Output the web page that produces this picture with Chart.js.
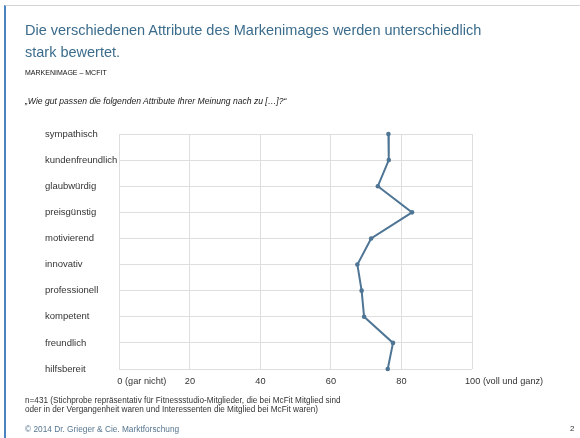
<!DOCTYPE html>
<html lang="de">
<head>
    <meta charset="UTF-8">
    <title>Markenimage McFit</title>
    <style>
        body { margin: 0; background: #fff; font-family: "Liberation Sans", Arial, sans-serif; }
        .slide { position: relative; width: 580px; height: 438px; overflow: hidden; }
        .frame { position: absolute; left: 4px; top: 5px; right: 0; bottom: 0; border-left: 2px solid #4a84c0; border-top: 1px solid #d4d4d4; }
        .chart-box { position: absolute; left: 0; top: 0; width: 580px; height: 438px; }
        .txt { position: absolute; left: 25px; white-space: nowrap; }
        .title { top: 19px; font-size: 14.5px; color: #3b6c8c; line-height: 22px; }
        .sub { top: 69px; font-size: 7px; color: #111; }
        .quote { top: 96px; font-size: 8.6px; font-style: italic; color: #222; }
        .note { top: 396px; font-size: 8.2px; color: #333; line-height: 9px; }
        .copy { top: 424px; font-size: 8.3px; color: #56758f; }
        .page { position: absolute; left: 570px; top: 424px; font-size: 8px; color: #333; }
    </style>
</head>
<body>
<div class="slide">
    <div class="frame"></div>
    <div class="chart-box"><canvas id="imageChart"></canvas></div>
    <div class="txt title">Die verschiedenen Attribute des Markenimages werden unterschiedlich<br>stark bewertet.</div>
    <div class="txt sub">MARKENIMAGE – MCFIT</div>
    <div class="txt quote">„Wie gut passen die folgenden Attribute Ihrer Meinung nach zu […]?“</div>
    <div class="txt note">n=431 (Stichprobe repräsentativ für Fitnessstudio-Mitglieder, die bei McFit Mitglied sind<br>oder in der Vergangenheit waren und Interessenten die Mitglied bei McFit waren)</div>
    <div class="txt copy">© 2014 Dr. Grieger &amp; Cie. Marktforschung</div>
    <div class="page">2</div>
</div>
<script src="https://cdn.jsdelivr.net/npm/chart.js"></script>
<script>
    const attribute = ['sympathisch', 'kundenfreundlich', 'glaubwürdig', 'preisgünstig', 'motivierend',
        'innovativ', 'professionell', 'kompetent', 'freundlich', 'hilfsbereit'];
    const werte = [76.3, 76.4, 73.3, 83.0, 71.4, 67.5, 68.7, 69.4, 77.6, 76.1];
    const xTicks = [0, 20, 40, 60, 80, 100];
    const xTickLabels = ['0 (gar nicht)', '20', '40', '60', '80', '100 (voll und ganz)'];

    // x-Beschriftung selbst zeichnen: erste und letzte stehen linksbündig am Strich
    const xLabels = {
        id: 'xLabels',
        afterDraw(chart) {
            const ctx = chart.ctx;
            const x = chart.scales.x;
            ctx.save();
            ctx.font = '9.2px "Liberation Sans"';
            ctx.fillStyle = '#333';
            ctx.textBaseline = 'middle';
            xTicks.forEach((v, i) => {
                const px = x.getPixelForValue(v);
                let dx = 0;
                ctx.textAlign = 'center';
                if (i === 0) { ctx.textAlign = 'left'; dx = -2; }
                if (i === xTicks.length - 1) { ctx.textAlign = 'left'; dx = -7; }
                ctx.fillText(xTickLabels[i], px + dx, chart.chartArea.bottom + 12);
            });
            ctx.restore();
        }
    };

    const ctx = document.getElementById('imageChart').getContext('2d');
    const imageChart = new Chart(ctx, {
        type: 'line',
        data: {
            labels: attribute,
            datasets: [{
                data: werte,
                borderColor: '#4f7595',
                backgroundColor: '#4f7595',
                borderWidth: 2,
                pointRadius: 2.3,
                pointBorderWidth: 0,
                tension: 0
            }]
        },
        options: {
            indexAxis: 'y',
            responsive: true,
            maintainAspectRatio: false,
            animation: false,
            layout: { padding: { left: 45, top: 134, right: 108, bottom: 69 } },
            plugins: { legend: { display: false }, tooltip: { enabled: false } },
            scales: {
                x: {
                    type: 'linear',
                    min: 0,
                    max: 100,
                    ticks: { display: false, stepSize: 20 },
                    grid: { color: '#dedede', drawTicks: false },
                    border: { display: false }
                },
                y: {
                    type: 'category',
                    offset: false,
                    ticks: {
                        crossAlign: 'far',
                        padding: 1,
                        color: '#333',
                        font: { family: 'Liberation Sans', size: 9.5 }
                    },
                    grid: { color: '#dedede', drawTicks: false },
                    border: { color: '#dedede' }
                }
            }
        },
        plugins: [xLabels]
    });
</script>
</body>
</html>
